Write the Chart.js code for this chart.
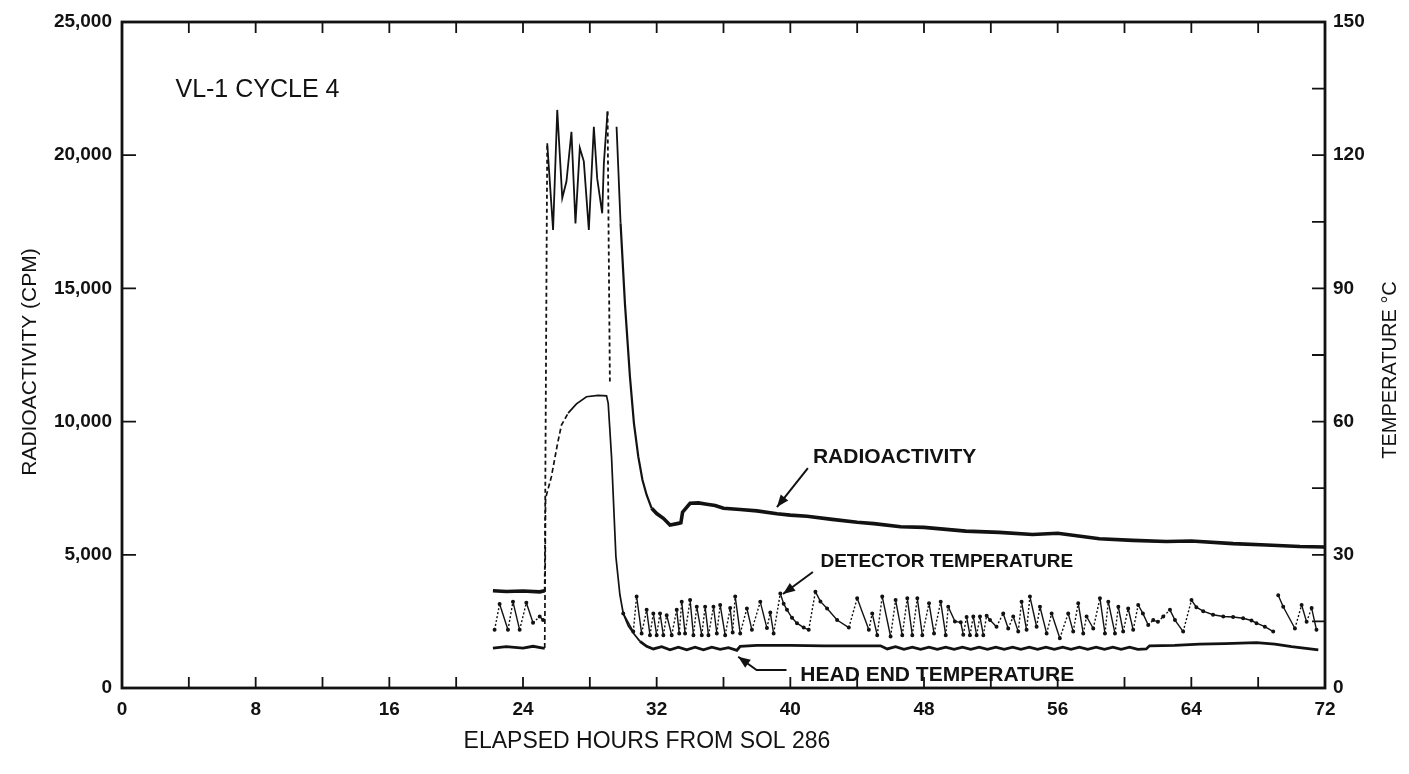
<!DOCTYPE html>
<html>
<head>
<meta charset="utf-8">
<script src="https://cdn.jsdelivr.net/npm/chart.js@4.4.1/dist/chart.umd.min.js"></script>
<style>
  html, body { margin: 0; padding: 0; background: #ffffff; }
  #wrap { position: relative; width: 1409px; height: 774px; }
</style>
</head>
<body>
<div id="wrap"><canvas id="c" width="1409" height="774"></canvas></div>
<script>
// ---------------- DATA ----------------
const xTickLabels = [0, 8, 16, 24, 32, 40, 48, 56, 64, 72];
const xTickMarks = [0, 4, 8, 12, 16, 20, 24, 28, 32, 36, 40, 44, 48, 52, 56, 60, 64, 68, 72];
const cpmTickLabels = [0, 5000, 10000, 15000, 20000, 25000];
const tempTickLabels = [0, 30, 60, 90, 120, 150];
const tempTickMarks = [0, 15, 30, 45, 60, 75, 90, 105, 120, 135, 150];

// Radioactivity (CPM) vs elapsed hours
const radHours = [22.2, 23.0, 24.0, 25.0, 25.3, 25.45, 25.8, 26.05, 26.35, 26.6, 26.9, 27.14, 27.4, 27.64, 27.94, 28.24, 28.44, 28.74, 28.84, 29.06, 29.2, 29.4,
  29.6, 29.84, 30.1, 30.4, 30.64, 30.9, 31.15, 31.4, 31.7, 32.0, 32.4, 32.8, 33.3, 33.45, 33.55, 34.0, 34.5, 35.0, 35.5, 36.0, 37.0, 38.0, 39.2, 40.0,
  41.0, 42.5, 44.0, 45.0, 46.6, 48.0, 50.5, 52.5, 54.5, 56.0, 58.5, 60.5, 62.5, 64.0, 66.5, 68.5, 70.5, 72.0];
const radCpm = [3650, 3620, 3640, 3610, 3650, 20450, 17190, 21700, 18390, 19010, 20880, 17440, 20270, 19770, 17190, 21070, 19130, 17820, 19700, 21640, 11500, null,
  21070, 17440, 14440, 11690, 9935, 8683, 7808, 7245, 6745, 6550, 6370, 6118, 6180, 6200, 6600, 6933, 6950, 6900, 6850, 6745, 6700, 6650, 6540, 6490,
  6450, 6330, 6220, 6170, 6055, 6030, 5890, 5840, 5760, 5810, 5600, 5540, 5500, 5520, 5420, 5370, 5310, 5290];

// Head end temperature (deg C)
const headHours = [22.2, 23.0, 24.0, 24.6, 25.2, 25.3, 25.35, 25.7, 26.07, 26.3, 26.7, 27.2, 27.8, 28.5, 29.0, 29.1, 29.3, 29.56, 29.8, 30.0, 30.3, 30.6, 31.0, 31.4, 31.8,
  32.3, 32.8, 33.3, 33.8, 34.3, 34.8, 35.3, 35.8, 36.3, 36.8, 37.0, 38.0, 40.0, 42.0, 44.0, 45.4,
  45.8, 46.3, 46.8, 47.3, 47.8, 48.3, 48.8, 49.3, 49.8, 50.3, 50.8, 51.3, 51.8, 52.3, 52.8, 53.3, 53.8, 54.3, 54.8, 55.3, 55.8, 56.3, 56.8, 57.3, 57.8, 58.3, 58.8, 59.3, 59.8, 60.3, 60.8, 61.3,
  61.5, 63.0, 64.5, 66.0, 67.9, 69.0, 70.0, 71.6];
const headTemp = [9.0, 9.3, 9.0, 9.4, 9.0, 9.0, 42.7, 47.6, 55.1, 59.2, 61.9, 64.0, 65.6, 65.9, 65.8, 64.1, 52.0, 29.6, 21.0, 16.8, 14.0, 12.4, 10.5, 9.4, 8.8,
  9.3, 8.6, 9.2, 8.6, 9.2, 8.6, 9.2, 8.7, 9.1, 8.5, 9.4, 9.6, 9.6, 9.5, 9.5, 9.5,
  8.8, 9.3, 8.7, 9.2, 8.7, 9.2, 8.7, 9.2, 8.7, 9.2, 8.7, 9.2, 8.7, 9.2, 8.7, 9.2, 8.7, 9.2, 8.7, 9.2, 8.7, 9.2, 8.7, 9.2, 8.7, 9.2, 8.7, 9.2, 8.7, 9.2, 8.7, 8.8,
  9.5, 9.6, 9.9, 10.0, 10.2, 9.9, 9.3, 8.6];

// Detector temperature (deg C)
const detHours = [22.3, 22.6, 23.1, 23.4, 23.8, 24.2, 24.6, 25.0, 25.2, 27.0,
  30.0, 30.6, 30.8, 31.1, 31.4, 31.6, 31.8, 32.0, 32.2, 32.4, 32.6, 32.9, 33.2, 33.35, 33.5, 33.7, 34.0, 34.2, 34.4, 34.7, 34.9, 35.1, 35.4, 35.6, 35.8, 36.1, 36.4, 36.55, 36.7, 37.0,
  37.4, 37.7, 38.2, 38.6, 38.8, 39.0, 39.4, 39.6, 39.8, 40.1, 40.4, 40.8, 41.1, 41.5, 41.8, 42.2, 42.8, 43.5, 44.0, 44.7, 44.9, 45.2, 45.5, 46.0, 46.3, 46.7, 47.0, 47.3, 47.6, 47.9,
  48.3, 48.6, 49.0, 49.3, 49.45, 49.85, 50.2, 50.35, 50.55, 50.75, 50.95, 51.15, 51.35, 51.55, 51.75, 51.95, 52.34, 52.74, 53.04, 53.34, 53.64, 53.84, 54.14,
  54.34, 54.74, 54.94, 55.34, 55.64, 56.13, 56.63, 56.93, 57.23, 57.53, 57.73, 58.13, 58.53, 58.83, 59.03, 59.43, 59.63, 59.92, 60.22, 60.52, 60.82, 61.1,
  61.42, 61.72, 62.0, 62.32, 62.72, 63.02, 63.51, 64.01, 64.3, 64.71, 65.3, 65.91, 66.5, 67.1, 67.6, 67.9, 68.4, 68.9, 69.05, 69.2, 69.5, 70.2, 70.6, 70.9, 71.2, 71.49];
const detTemp = [13.1, 18.9, 13.1, 19.4, 13.1, 19.2, 14.7, 16.1, 15.3, null,
  16.8, 12.7, 20.6, 12.3, 17.6, 11.9, 16.8, 11.9, 16.8, 11.9, 16.4, 11.9, 17.6, 12.3, 19.4, 12.3, 19.8, 11.9, 18.3, 11.9, 18.3, 11.9, 18.3, 12.3, 18.7, 11.9, 18.0, 12.5, 20.6, 12.3,
  17.9, 13.1, 19.4, 13.5, 17.0, 12.3, 21.3, 19.0, 17.6, 15.8, 14.6, 13.6, 13.1, 21.7, 19.5, 17.9, 15.3, 13.6, 20.2, 13.1, 16.8, 11.9, 20.6, 11.6, 19.8, 11.9, 20.2, 11.9, 20.2, 11.9,
  19.1, 12.3, 19.4, 11.9, 18.3, 15.0, 14.8, 12.0, 16.0, 11.9, 16.1, 11.9, 16.1, 11.9, 16.3, 15.3, 13.8, 16.8, 13.4, 16.1, 12.7, 19.4, 13.1,
  20.6, 13.8, 18.3, 12.3, 16.8, 11.2, 16.8, 12.7, 19.1, 12.3, 16.1, 13.4, 20.2, 12.3, 19.4, 12.3, 18.3, 12.7, 17.9, 13.1, 18.7, 16.8,
  14.2, 15.3, 14.9, 16.1, 17.6, 15.3, 12.7, 19.8, 18.2, 17.3, 16.5, 16.1, 16.0, 15.7, 15.2, 14.6, 13.8, 12.7, null, 20.9, 18.3, 13.4, 18.7, 14.9, 18.0, 13.1];

// Texts
const chartLabel = "VL-1 CYCLE 4";
const xTitle = "ELAPSED HOURS FROM SOL 286";
const yTitle = "RADIOACTIVITY (CPM)";
const y2Title = "TEMPERATURE \u00B0C";
const annotations = [
  { text: "RADIOACTIVITY", hour: 41.35, cpm: 8670, size: 21, arrow: [[41.05, 8258], [39.2, 6794]] },
  { text: "DETECTOR TEMPERATURE", hour: 41.8, cpm: 4730, size: 19, arrow: [[41.35, 4354], [39.56, 3529]] },
  { text: "HEAD END TEMPERATURE", hour: 40.6, cpm: 488, size: 21, arrow: [[39.77, 676], [37.98, 676], [36.88, 1175]] }
];

// ---------------- BUILD ----------------
const pts = (xs, ys) => xs.map((x, i) => ({ x: x, y: ys[i] }));
const INK = '#121212';
const FONT = "'Liberation Sans', 'DejaVu Sans', Arial, sans-serif";

const framePlugin = {
  id: 'frame',
  afterDraw(chart) {
    const ctx = chart.ctx, a = chart.chartArea;
    const xs = chart.scales.x, ys = chart.scales.y, y2 = chart.scales.y2;
    ctx.save();
    ctx.strokeStyle = INK;
    ctx.lineWidth = 2.8;
    ctx.strokeRect(a.left, a.top, a.right - a.left, a.bottom - a.top);
    ctx.lineWidth = 1.8;
    ctx.beginPath();
    xTickMarks.forEach(v => {
      const px = xs.getPixelForValue(v);
      ctx.moveTo(px, a.bottom); ctx.lineTo(px, a.bottom - 11);
      ctx.moveTo(px, a.top); ctx.lineTo(px, a.top + 11);
    });
    cpmTickLabels.forEach(v => {
      const py = ys.getPixelForValue(v);
      ctx.moveTo(a.left, py); ctx.lineTo(a.left + 14, py);
    });
    tempTickMarks.forEach(v => {
      const py = y2.getPixelForValue(v);
      ctx.moveTo(a.right, py); ctx.lineTo(a.right - 13, py);
    });
    ctx.stroke();

    // titles
    ctx.fillStyle = INK;
    ctx.textBaseline = 'middle';
    ctx.textAlign = 'center';
    ctx.font = "23px " + FONT;
    ctx.fillText(xTitle, 647, 742);
    ctx.font = "21px " + FONT;
    ctx.save();
    ctx.translate(30, 362);
    ctx.rotate(-Math.PI / 2);
    ctx.fillText(yTitle, 0, 0);
    ctx.restore();
    ctx.font = "20px " + FONT;
    ctx.save();
    ctx.translate(1390, 370);
    ctx.rotate(-Math.PI / 2);
    ctx.fillText(y2Title, 0, 0);
    ctx.restore();

    // in-plot label
    ctx.textAlign = 'left';
    ctx.font = "25px " + FONT;
    ctx.fillText(chartLabel, xs.getPixelForValue(3.2), ys.getPixelForValue(22450));

    // annotations with arrows
    annotations.forEach(an => {
      ctx.font = "bold " + an.size + "px " + FONT;
      ctx.fillText(an.text, xs.getPixelForValue(an.hour), ys.getPixelForValue(an.cpm));
      const p = an.arrow.map(q => [xs.getPixelForValue(q[0]), ys.getPixelForValue(q[1])]);
      ctx.lineWidth = 2;
      ctx.beginPath();
      ctx.moveTo(p[0][0], p[0][1]);
      for (let i = 1; i < p.length; i++) ctx.lineTo(p[i][0], p[i][1]);
      ctx.stroke();
      const e = p[p.length - 1], s = p[p.length - 2];
      const ang = Math.atan2(e[1] - s[1], e[0] - s[0]);
      const L = 13, W = 0.38;
      ctx.beginPath();
      ctx.moveTo(e[0], e[1]);
      ctx.lineTo(e[0] - L * Math.cos(ang - W), e[1] - L * Math.sin(ang - W));
      ctx.lineTo(e[0] - L * Math.cos(ang + W), e[1] - L * Math.sin(ang + W));
      ctx.closePath();
      ctx.fill();
    });
    ctx.restore();
  }
};

const inRange = (c, lo, hi) => c.p0.parsed.x >= lo && c.p1.parsed.x <= hi;

new Chart(document.getElementById('c'), {
  type: 'line',
  data: {
    datasets: [
      {
        label: 'Radioactivity',
        data: pts(radHours, radCpm),
        yAxisID: 'y',
        borderColor: INK,
        borderWidth: 3.6,
        pointRadius: 0,
        tension: 0,
        spanGaps: false,
        segment: {
          borderWidth: c => inRange(c, 25.25, 29.9) ? 1.8 : (inRange(c, 29.8, 31.8) ? 2.2 : 3.6),
          borderDash: c => (inRange(c, 25.25, 25.5) || inRange(c, 29.0, 29.3)) ? [4, 3] : []
        }
      },
      {
        label: 'Head end temperature',
        data: pts(headHours, headTemp),
        yAxisID: 'y2',
        borderColor: INK,
        borderWidth: 2.8,
        pointRadius: 0,
        tension: 0,
        segment: {
          borderWidth: c => inRange(c, 25.25, 31.0) ? 1.7 : 2.8,
          borderDash: c => (inRange(c, 25.25, 27.0)) ? [5, 3] : []
        }
      },
      {
        label: 'Detector temperature',
        data: pts(detHours, detTemp),
        yAxisID: 'y2',
        borderColor: INK,
        backgroundColor: INK,
        borderWidth: 1.4,
        pointRadius: 1.3,
        pointHoverRadius: 1.3,
        tension: 0,
        spanGaps: false,
        segment: {
          borderDash: c => (c.p1.parsed.y > c.p0.parsed.y) ? [2, 2] : []
        }
      }
    ]
  },
  options: {
    responsive: false,
    animation: false,
    events: [],
    layout: { padding: { left: 0, right: 0, top: 22, bottom: 0 } },
    plugins: { legend: { display: false }, tooltip: { enabled: false } },
    scales: {
      x: {
        type: 'linear', min: 0, max: 72,
        grid: { display: false, drawTicks: false },
        border: { display: false },
        afterBuildTicks: s => { s.ticks = xTickLabels.map(v => ({ value: v })); },
        afterFit: s => { s.height = 86; },
        ticks: { color: INK, padding: 10, maxRotation: 0, autoSkip: false, font: { family: FONT, size: 19, weight: 'bold' } }
      },
      y: {
        type: 'linear', position: 'left', min: 0, max: 25000,
        grid: { display: false, drawTicks: false },
        border: { display: false },
        afterBuildTicks: s => { s.ticks = cpmTickLabels.map(v => ({ value: v })); },
        afterFit: s => { s.width = 122; },
        ticks: { color: INK, padding: 10, font: { family: FONT, size: 19, weight: 'bold' },
          callback: v => v.toLocaleString('en-US') }
      },
      y2: {
        type: 'linear', position: 'right', min: 0, max: 150,
        grid: { display: false, drawTicks: false },
        border: { display: false },
        afterBuildTicks: s => { s.ticks = tempTickLabels.map(v => ({ value: v })); },
        afterFit: s => { s.width = 84; },
        ticks: { color: INK, padding: 8, font: { family: FONT, size: 19, weight: 'bold' } }
      }
    }
  },
  plugins: [framePlugin]
});
</script>
</body>
</html>
